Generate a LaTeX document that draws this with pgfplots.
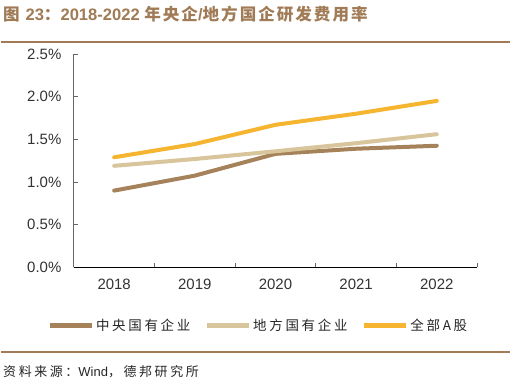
\documentclass[border=0pt]{standalone}
\usepackage{pgfplots}
\pgfplotsset{compat=1.18}
\usepackage{fontspec}
\setmainfont{Liberation Sans}
\newfontfamily\cjk[LetterSpace=20]{Noto Sans CJK SC}
\newfontfamily\cjkt[LetterSpace=12]{Noto Sans CJK SC}
\definecolor{c1}{HTML}{A5825A}
\definecolor{c2}{HTML}{D8C59B}
\definecolor{c3}{HTML}{F5B530}
\definecolor{tit}{HTML}{A07B55}
\begin{document}
\begin{tikzpicture}[x=1pt,y=1pt]
\fill[white] (0,0) rectangle (519,392);
\node[anchor=west, text=tit, font=\bfseries\fontsize{16.6}{18}\selectfont, inner sep=0] at (2,378) {{\cjkt\bfseries 图 }23{\cjkt\bfseries ：}2018-2022 {\cjkt\bfseries 年央企}/{\cjkt\bfseries 地方国企研发费用率}};
\draw[tit, line width=1.5pt] (0,350) -- (510,350);
\draw[tit, line width=2pt] (0,39) -- (510,39);
\node[anchor=west, font=\fontsize{13}{15}\selectfont, inner sep=0, text=black!85] at (2,20) {{\cjk 资料来源：}Wind{\cjk ，德邦研究所}};
\begin{axis}[at={(73pt,124pt)}, anchor=south west, scale only axis, width=404pt, height=214pt,
  xmin=-0.5, xmax=4.5, ymin=0, ymax=2.5,
  xtick={-0.5,0.5,1.5,2.5,3.5,4.5}, x tick label as interval, xticklabels={2018,2019,2020,2021,2022},
  ytick={0,0.5,1,1.5,2,2.5},
  axis x line*=bottom, axis y line*=left, axis line style={-},
  x axis line style={black, line width=0.8pt},
  y axis line style={black!60, line width=0.8pt},
  tick align=inside, major tick length=4pt,
  tick style={black!60, line width=0.8pt},
  ticklabel style={font=\fontsize{15}{17}\selectfont, text=black!80},
  xticklabel style={yshift=-8.5pt},
  yticklabel style={xshift=-9pt},
  yticklabel={\pgfmathprintnumber[fixed,fixed zerofill,precision=1]{\tick}\%},
  /pgf/number format/assume math mode=true,
  legend style={at={(0.457,-0.271)}, anchor=center, draw=none, font=\cjk\fontsize{13.5}{15}\selectfont, text=black!85, legend columns=3, /tikz/every even column/.append style={column sep=12pt}},
  legend image code/.code={\draw[#1, line width=5pt, line cap=butt] (0pt,0pt) -- (42pt,0pt);},
  every axis plot/.append style={line width=4pt, line cap=round, line join=round},
]
\addplot[c1] coordinates {(0,0.90)(1,1.075)(2,1.33)(3,1.39)(4,1.425)};
\addlegendentry{中央国有企业}
\addplot[c2] coordinates {(0,1.19)(1,1.27)(2,1.36)(3,1.455)(4,1.56)};
\addlegendentry{地方国有企业}
\addplot[c3] coordinates {(0,1.29)(1,1.445)(2,1.67)(3,1.80)(4,1.95)};
\addlegendentry{全部A股}
\end{axis}
\end{tikzpicture}
\end{document}
